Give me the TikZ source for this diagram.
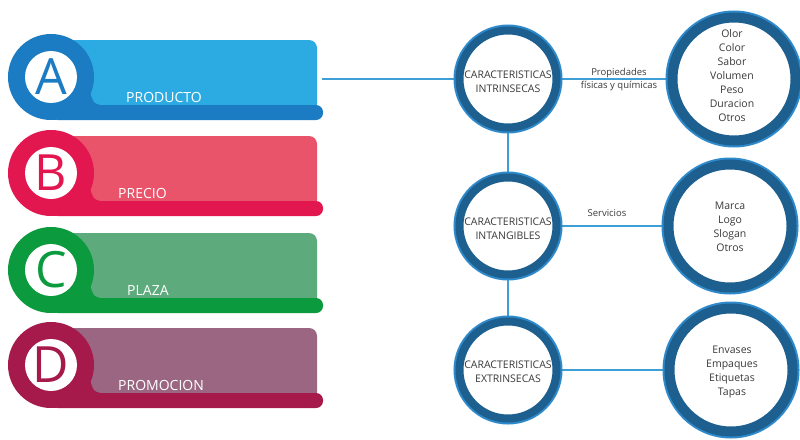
\documentclass[tikz,border=0pt]{standalone}
\usepackage{fontspec}
\setmainfont{Open Sans}
\usetikzlibrary{backgrounds}
\definecolor{aDark}{HTML}{1B7CC3}\definecolor{aLight}{HTML}{2CABE3}
\definecolor{bDark}{HTML}{E3174F}\definecolor{bLight}{HTML}{E9546B}
\definecolor{cDark}{HTML}{0B9A3E}\definecolor{cLight}{HTML}{5DAB7C}
\definecolor{dDark}{HTML}{A5194B}\definecolor{dLight}{HTML}{9A6681}
\definecolor{ringDark}{HTML}{1D5F8E}\definecolor{ringLight}{HTML}{2F8ACB}
\definecolor{connBlue}{HTML}{3D9FD6}\definecolor{txtGray}{HTML}{3A3A3A}
\newcommand\rowbanner[7]{%
  \fill[#2] (60,#1-37) [rounded corners=8]-- (317,#1-37) [sharp corners]-- (317,#1+30) -- (60,#1+30) -- cycle;
  \fill[#3] (51,#1) -- (90.5,#1+16.9) .. controls (93.5,#1+26) .. (100,#1+28) -- (51,#1+28) -- cycle;
  \fill[#3, rounded corners=7] (51,#1+28) rectangle (323,#1+43);
  \node[circle, fill=#3, minimum size=86, inner sep=0] (#6c) at (51,#1) {};
  \node[circle, fill=white, minimum size=52, inner sep=0] (#6w) at (#6c) {};
  \node[text=#3, font=\fontsize{50}{50}\selectfont, inner sep=0] (#6l) at (#6c) {#5};
  \node[anchor=west, text=white, font=\fontsize{14}{14}\selectfont, inner sep=0] (#6t) at (#7,#1+20) {#4};
}
\begin{document}
\begin{tikzpicture}[x=1pt,y=-1pt,
  midc/.style={circle, draw=ringDark, line width=8, fill=white, minimum size=97, inner sep=0,
     preaction={draw=ringLight, line width=12}},
  bigc/.style={circle, draw=ringDark, line width=10, fill=white, minimum size=123, inner sep=0,
     preaction={draw=ringLight, line width=14}},
  midtxt/.style={align=center, font=\fontsize{10.5}{14}\selectfont, text=txtGray, inner sep=0},
  bigtxt/.style={align=center, font=\fontsize{10.5}{14}\selectfont, text=txtGray, inner sep=0},
  conn/.style={draw=connBlue, line width=1.3},
  lbl/.style={align=center, font=\fontsize{9.5}{13}\selectfont, text=txtGray, inner sep=0}]
\useasboundingbox (0,0) rectangle (800,439);

\rowbanner{77}{aLight}{aDark}{PRODUCTO}{A}{ra}{126}
\rowbanner{173}{bLight}{bDark}{PRECIO}{B}{rb}{118}
\rowbanner{270}{cLight}{cDark}{PLAZA}{C}{rc}{127}
\rowbanner{365}{dLight}{dDark}{PROMOCION}{D}{rd}{118}

\coordinate (bA) at (322,79);

\node[midc] (i1) at (508,79) {};
\node[midc] (i2) at (508,226) {};
\node[midc] (i3) at (508,370) {};
\node[midtxt] (i1t) at (508,82) {CARACTERISTICAS\\INTRINSECAS};
\node[midtxt] (i2t) at (508,229) {CARACTERISTICAS\\INTANGIBLES};
\node[midtxt] (i3t) at (508,372) {CARACTERISTICAS\\EXTRINSECAS};

\node[bigc] (o1) at (734,79) {};
\node[bigc] (o2) at (730,226) {};
\node[bigc] (o3) at (731,370) {};
\node[bigtxt] (o1t) at (732,76) {Olor\\Color\\Sabor\\Volumen\\Peso\\Duracion\\Otros};
\node[bigtxt] (o2t) at (730,227) {Marca\\Logo\\Slogan\\Otros};
\node[bigtxt] (o3t) at (732,372) {Envases\\Empaques\\Etiquetas\\Tapas};

\begin{scope}[on background layer]
\fill[white] (0,0) rectangle (800,439);
\draw[conn] (bA) -- (i1);
\draw[conn] (i1) -- (i2);
\draw[conn] (i2) -- (i3);
\draw[conn] (i1) -- (o1);
\draw[conn] (i2) -- (o2);
\draw[conn] (i3) -- (o3);
\end{scope}

\node[lbl] (l1) at (619,80) {Propiedades\\físicas y químicas};
\node[lbl] (l2) at (607,213) {Servicios};
\end{tikzpicture}
\end{document}
